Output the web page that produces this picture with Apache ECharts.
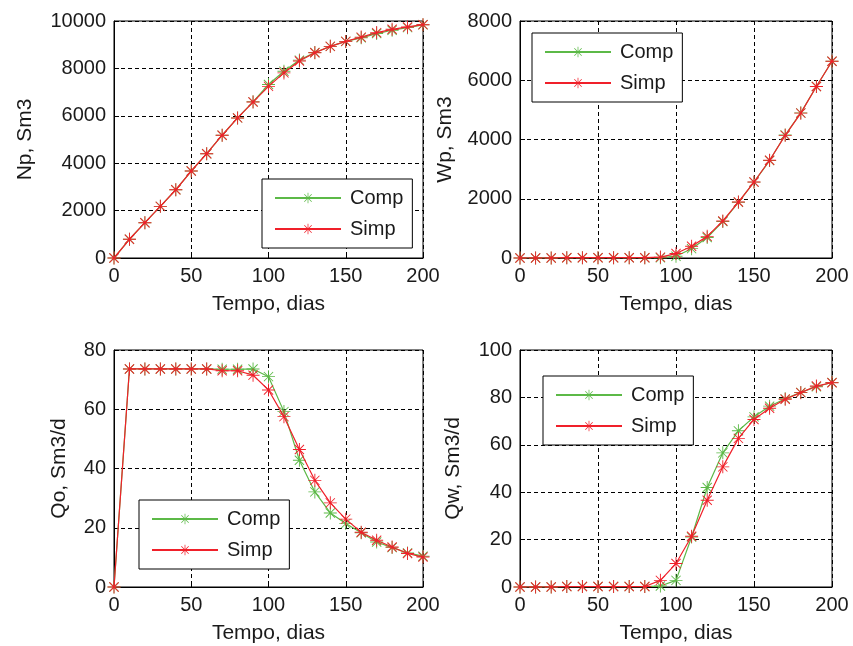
<!DOCTYPE html>
<html>
<head>
<meta charset="utf-8">
<script src="https://cdn.jsdelivr.net/npm/echarts@6/dist/echarts.min.js"></script>
<style>html,body{margin:0;padding:0;background:#fff}#c{width:853px;height:646px}</style>
</head>
<body>
<div id="c"></div>
<script>
const days = [0,10,20,30,40,50,60,70,80,90,100,110,120,130,140,150,160,170,180,190,200];

const npComp = [0,790,1490,2180,2880,3670,4400,5180,5910,6590,7320,7880,8350,8670,8930,9140,9290,9470,9610,9720,9840];
const npSimp = [0,790,1490,2180,2880,3670,4400,5180,5910,6580,7240,7810,8310,8660,8930,9140,9320,9510,9650,9750,9845];

const wpComp = [0,0,0,10,10,10,10,10,10,10,60,315,690,1230,1880,2560,3290,4150,4900,5790,6640];
const wpSimp = [0,0,0,10,10,10,10,10,10,30,150,395,730,1250,1890,2565,3300,4140,4890,5790,6640];

const qoComp = [0,73.6,73.6,73.6,73.6,73.6,73.6,73.5,73.5,73.6,71,59.2,42.8,32.1,25,21.4,18.3,15.2,13.3,11.5,10.4];
const qoSimp = [0,73.6,73.6,73.6,73.6,73.6,73.6,73.0,73.0,71.5,66.5,57.5,46.4,36,28.4,22.9,18.5,15.8,13.5,11.3,10.1];

const qwComp = [0,0,0,0.2,0.2,0.2,0.2,0.2,0.2,0.4,2.8,21.1,42,56.6,65.9,71.8,76.3,79.4,82.1,84.5,86.3];
const qwSimp = [0,0,0,0.2,0.2,0.2,0.2,0.2,0.2,2.8,9.9,21.4,36.6,50.7,62.7,70.7,75.4,79.2,82,84.8,86.2];

const xTicks = [0,50,100,150,200];
const yNames = ['Np, Sm3','Wp, Sm3','Qo, Sm3/d','Qw, Sm3/d'];
const yMax = [10000,8000,80,100];
const yInterval = [2000,2000,20,20];
const xName = 'Tempo, dias';
const seriesNames = ['Comp','Simp'];

const GREEN = '#5cb947', RED = '#f0202a';
const FONT = 'Liberation Sans, Arial, sans-serif';
const STAR = 'path://M46.5 0L53.5 0L53.5 100L46.5 100Z M0 46.5L100 46.5L100 53.5L0 53.5Z M17 12L88 83L83 88L12 17Z M83 12L88 17L17 88L12 83Z';

const grids = [
  {left:114, top:21, width:309, height:237},
  {left:520, top:21, width:312, height:237},
  {left:114, top:350, width:309, height:237},
  {left:520, top:350, width:312, height:237}
];
const nameGaps = [78, 64, 44, 56];
const legendPos = [
  {left:262, top:179},
  {left:532, top:33},
  {left:139, top:500},
  {left:543, top:376}
];
const data = [[npComp,npSimp],[wpComp,wpSimp],[qoComp,qoSimp],[qwComp,qwSimp]];

const option = {
  animation:false,
  backgroundColor:'#fff',
  textStyle:{fontFamily:FONT},
  grid: grids.map(g => Object.assign({show:true, borderColor:'#000', borderWidth:1, backgroundColor:'#fff', containLabel:false}, g)),
  xAxis: grids.map((g,i) => ({
    type:'value', gridIndex:i, min:0, max:200, interval:50,
    name:xName, nameLocation:'middle', nameGap:36,
    nameTextStyle:{fontSize:21, color:'#1a1a1a', fontFamily:FONT},
    axisLine:{show:true, lineStyle:{color:'#000', width:1}},
    axisTick:{show:true, inside:true, length:5, lineStyle:{color:'#000'}},
    axisLabel:{fontSize:20, color:'#1a1a1a', margin:8, fontFamily:FONT,
      formatter: v => xTicks.includes(v) ? String(v) : ''},
    splitLine:{show:true, lineStyle:{color:'#000', type:[4,3], width:1}}
  })),
  yAxis: grids.map((g,i) => ({
    type:'value', gridIndex:i, min:0, max:yMax[i], interval:yInterval[i],
    name:yNames[i], nameLocation:'middle', nameGap:nameGaps[i],
    nameTextStyle:{fontSize:21, color:'#1a1a1a', fontFamily:FONT},
    axisLine:{show:true, lineStyle:{color:'#000', width:1}},
    axisTick:{show:true, inside:true, length:5, lineStyle:{color:'#000'}},
    axisLabel:{fontSize:20, color:'#1a1a1a', margin:8, fontFamily:FONT,
      formatter: v => String(v)},
    splitLine:{show:true, lineStyle:{color:'#000', type:[4,3], width:1}}
  })),
  legend: legendPos.map(p => ({
    left:p.left, top:p.top, orient:'vertical',
    data: seriesNames,
    backgroundColor:'#fff', borderColor:'#000', borderWidth:1,
    padding:[9,9,9,12], itemGap:11, itemWidth:66, itemHeight:13,
    selectedMode:false,
    textStyle:{fontSize:20, color:'#1a1a1a', fontFamily:FONT, padding:[0,0,0,4], lineHeight:20}
  })),
  series: []
};

data.forEach((pair, i) => {
  pair.forEach((vals, k) => {
    const c = k === 0 ? GREEN : RED;
    option.series.push({
      type:'line', name:seriesNames[k], xAxisIndex:i, yAxisIndex:i,
      data: days.map((d, j) => [d, vals[j]]),
      symbol:STAR, symbolSize:13, symbolKeepAspect:true, showSymbol:true,
      lineStyle:{color:c, width:1.2},
      itemStyle:{color:c, borderWidth:0},
      emphasis:{disabled:true},
      z: k === 0 ? 2 : 3
    });
  });
});

const chart = echarts.init(document.getElementById('c'), null, {renderer:'canvas'});
chart.setOption(option);
</script>
</body>
</html>
